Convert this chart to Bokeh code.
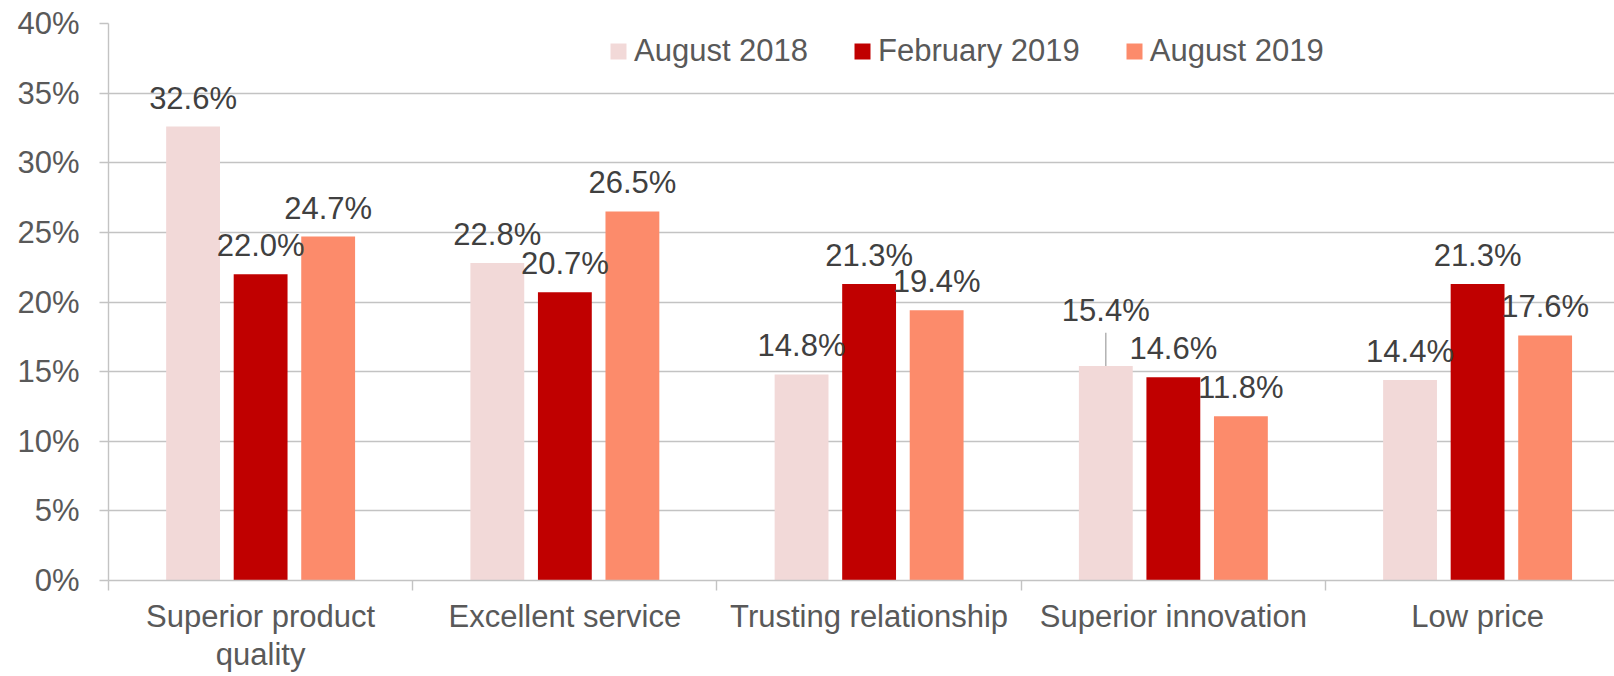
from bokeh.plotting import figure
from bokeh.models import Range1d, FixedTicker, ColumnDataSource, LabelSet, Legend, LegendItem
from bokeh.core.properties import value
from bokeh.embed import file_html
from bokeh.resources import INLINE

# ---- data ----
categories = ["Superior product\nquality", "Excellent service", "Trusting relationship",
              "Superior innovation", "Low price"]
series_names = ["August 2018", "February 2019", "August 2019"]
aug_2018 = [32.6, 22.8, 14.8, 15.4, 14.4]
feb_2019 = [22.0, 20.7, 21.3, 14.6, 21.3]
aug_2019 = [24.7, 26.5, 19.4, 11.8, 17.6]
y_ticks = [0, 5, 10, 15, 20, 25, 30, 35, 40]
y_tick_labels = ["0%", "5%", "10%", "15%", "20%", "25%", "30%", "35%", "40%"]

# ---- styles ----
colors = ["#F2D9D8", "#C00000", "#FC8B6B"]
offsets = [-0.222, 0.0, 0.222]
bar_width = 0.177
label_lift = [[0, 0, 0, 27, 0], [0, 0, 0, 0, 0], [0, 0, 0, 0, 0]]  # extra px for moved labels
leader_len = 2.4
FONT = "Liberation Sans"
GRID = "#c3c3c3"
AXIS_TEXT = "#595959"
DATA_TEXT = "#404040"

series = [aug_2018, feb_2019, aug_2019]
centers = [i + 0.5 for i in range(len(categories))]
boundaries = list(range(len(categories) + 1))

p = figure(width=1614, height=676, x_range=Range1d(0, 4.95), y_range=Range1d(0, 40),
           output_backend="svg", toolbar_location=None,
           min_border_left=108, min_border_right=0, min_border_top=23, min_border_bottom=96)
p.outline_line_color = None
p.background_fill_color = "white"
p.border_fill_color = "white"

# grid
p.xgrid.visible = False
p.ygrid.ticker = FixedTicker(ticks=y_ticks)
p.ygrid.grid_line_color = GRID
p.ygrid.grid_line_width = 1.4

# y axis
p.yaxis.ticker = FixedTicker(ticks=y_ticks)
p.yaxis.major_label_overrides = {t: l for t, l in zip(y_ticks, y_tick_labels)}
p.yaxis.major_label_text_font = FONT
p.yaxis.major_label_text_font_size = "31px"
p.yaxis.major_label_text_color = AXIS_TEXT
p.yaxis.major_label_standoff = 20
p.yaxis.major_tick_out = 9
p.yaxis.major_tick_in = 0
p.yaxis.minor_tick_line_color = None
p.yaxis.major_tick_line_color = GRID
p.yaxis.major_tick_line_width = 1.4
p.yaxis.axis_line_color = GRID
p.yaxis.axis_line_width = 1.4

# x axis: labels at category centres, tick marks at category boundaries
p.xaxis.ticker = FixedTicker(ticks=centers, minor_ticks=boundaries)
p.xaxis.major_label_overrides = {c: t for c, t in zip(centers, categories)}
p.xaxis.major_label_text_font = FONT
p.xaxis.major_label_text_font_size = "31px"
p.xaxis.major_label_text_color = AXIS_TEXT
p.xaxis.major_label_text_line_height = 1.1
p.xaxis.major_label_standoff = 8
p.xaxis.major_tick_out = 0
p.xaxis.major_tick_in = 0
p.xaxis.major_tick_line_color = None
p.xaxis.minor_tick_out = 10
p.xaxis.minor_tick_in = 0
p.xaxis.minor_tick_line_color = GRID
p.xaxis.minor_tick_line_width = 1.4
p.xaxis.axis_line_color = GRID
p.xaxis.axis_line_width = 1.4

# bars
bar_renderers = []
for k, (vals, col) in enumerate(zip(series, colors)):
    xs = [c + offsets[k] for c in centers]
    src = ColumnDataSource(dict(x=xs, top=vals))
    r = p.vbar(x="x", top="top", width=bar_width, bottom=0, source=src,
               fill_color=col, line_color=None)
    bar_renderers.append(r)

# leader lines
for k, vals in enumerate(series):
    for i, v in enumerate(vals):
        if label_lift[k][i] > 0:
            x = centers[i] + offsets[k]
            p.segment(x0=[x], y0=[v], x1=[x], y1=[v + leader_len],
                      line_color="#a6a6a6", line_width=1.3)

# data labels
for k, vals in enumerate(series):
    for i, v in enumerate(vals):
        x = centers[i] + offsets[k]
        src = ColumnDataSource(dict(x=[x], y=[v], t=[f"{v:.1f}%"]))
        p.add_layout(LabelSet(x="x", y="y", text="t", source=src,
                              text_align="center", text_baseline="alphabetic",
                              y_offset=18 + label_lift[k][i],
                              text_font=value(FONT), text_font_size="31px",
                              text_color=DATA_TEXT))

# legend
items = [LegendItem(label=name, renderers=[r], index=0)
         for name, r in zip(series_names, bar_renderers)]
legend = Legend(items=items, location=(500, 511), orientation="horizontal",
                glyph_width=20, glyph_height=20, label_standoff=6, spacing=44,
                padding=0, margin=0, border_line_color=None, background_fill_alpha=0,
                label_text_font=FONT, label_text_font_size="31px",
                label_text_color=AXIS_TEXT)
p.add_layout(legend)

open("out.html", "w").write(file_html(p, INLINE))
